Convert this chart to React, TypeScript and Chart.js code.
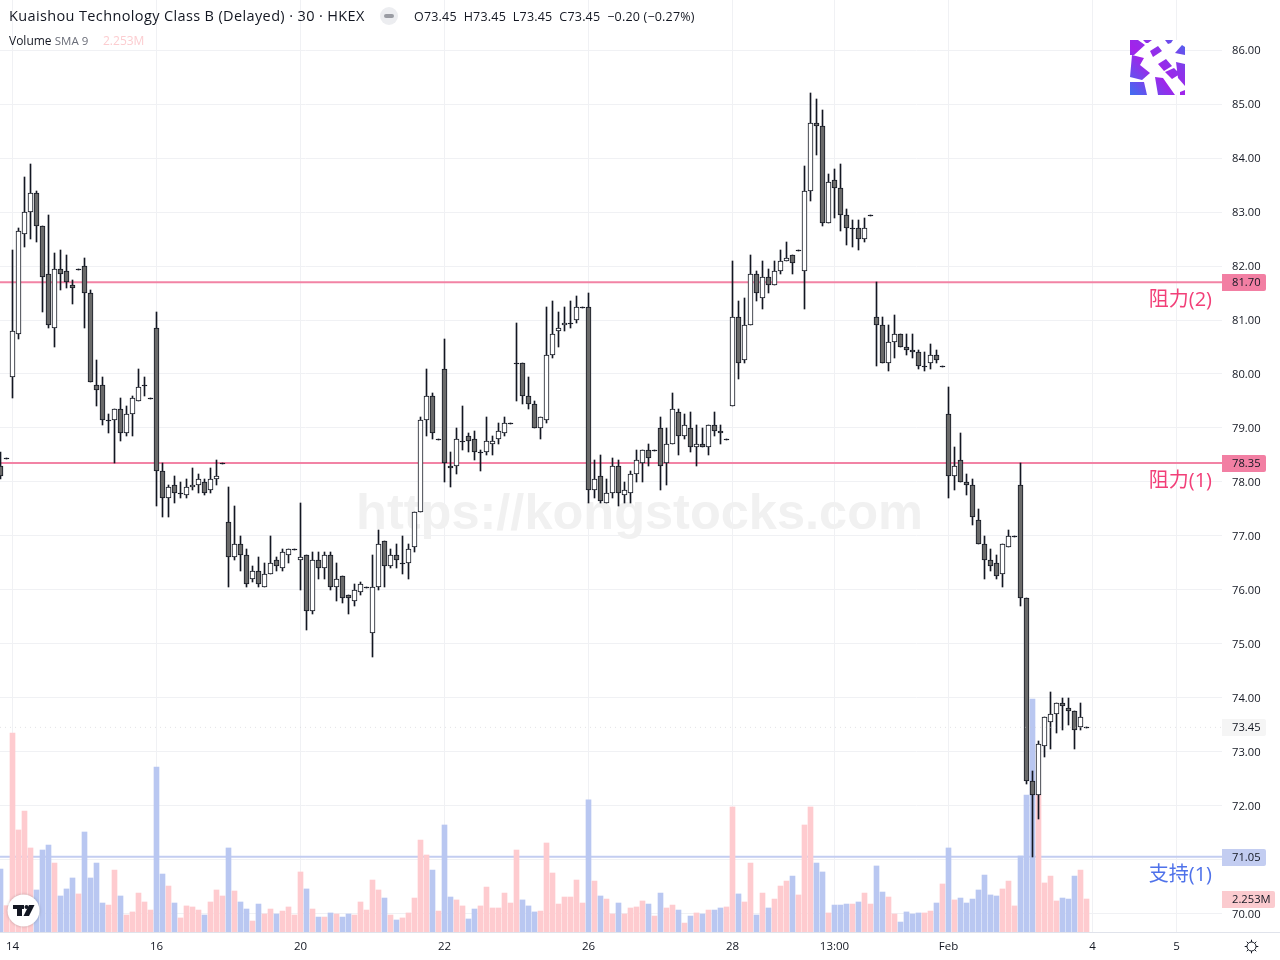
import React, { useEffect, useRef } from "react";
import { Chart, registerables } from "chart.js";

Chart.register(...registerables);

const opens = [
  78.3,78.45,79.95,80.75,82.6,83.0,83.35,82.75,81.85,80.85,
  81.95,81.9,81.65,81.95,82.0,81.5,79.8,79.8,79.15,79.15,
  79.35,78.9,79.25,79.5,79.8,79.55,80.85,78.2,77.7,77.95,
  77.8,77.75,77.9,77.95,78.0,77.85,78.05,78.35,77.25,76.6,
  76.85,76.65,76.2,76.35,76.05,76.3,76.55,76.4,76.65,76.75,
  76.55,76.65,75.6,76.55,76.4,76.65,76.05,76.25,75.9,75.8,
  75.95,76.05,75.2,76.05,76.9,76.45,76.65,76.5,76.5,76.8,
  77.45,79.15,79.6,78.8,80.1,78.3,78.3,78.75,78.85,78.8,
  78.55,78.55,78.7,78.8,78.9,79.1,80.2,80.2,79.6,79.45,
  79.0,79.15,80.35,80.8,80.9,80.95,81.0,81.25,81.25,77.85,
  78.1,77.6,77.8,78.3,77.75,77.8,78.15,78.35,78.6,78.6,
  79.0,78.35,78.7,79.3,78.85,79.0,78.65,78.7,78.65,79.05,
  78.95,78.8,79.4,81.05,80.25,80.9,81.85,81.4,81.8,81.65,
  81.9,82.1,82.2,82.3,81.9,83.4,84.65,84.6,82.8,83.6,
  83.45,82.95,82.7,82.7,82.5,82.95,81.05,80.9,80.2,80.6,
  80.75,80.5,80.45,80.4,80.15,80.2,80.35,80.15,79.25,78.1,
  78.4,78.0,77.95,77.3,76.85,76.55,76.5,76.3,76.8,77.0,
  77.95,75.85,72.45,72.2,73.1,73.55,73.7,73.9,73.8,73.75,73.45,73.45,
];
const closes = [
  78.1,78.45,80.8,82.65,83.0,83.35,82.75,81.8,80.9,81.95,
  81.85,81.7,81.6,81.95,81.5,79.85,79.7,79.15,79.15,79.35,
  78.9,79.25,79.55,79.75,79.8,79.55,78.2,77.7,77.9,77.8,
  77.8,77.9,77.95,78.05,77.8,78.05,78.1,78.35,76.6,76.85,
  76.65,76.1,76.35,76.1,76.3,76.5,76.45,76.7,76.75,76.75,
  76.6,75.6,76.55,76.4,76.65,76.05,76.2,75.85,75.85,76.0,
  76.1,76.05,76.05,76.85,76.45,76.65,76.55,76.5,76.75,77.45,
  79.15,79.6,78.9,78.8,78.35,78.25,78.8,78.75,78.75,78.55,
  78.55,78.75,78.75,78.95,79.1,79.1,80.2,79.6,79.45,79.0,
  79.2,80.35,80.75,80.85,80.95,80.95,81.25,81.25,77.85,78.05,
  77.65,77.8,78.3,77.8,77.85,78.15,78.4,78.6,78.45,78.6,
  78.3,78.7,79.35,78.85,79.05,78.65,78.7,78.65,79.05,78.95,
  78.9,78.8,81.05,80.2,80.9,81.85,81.5,81.8,81.65,81.9,
  82.1,82.15,82.05,82.3,83.4,84.65,84.6,82.8,83.55,83.45,
  82.95,82.7,82.7,82.5,82.7,82.95,80.9,80.2,80.6,80.75,
  80.5,80.45,80.4,80.15,80.15,80.35,80.25,80.15,78.1,78.3,
  78.0,77.95,77.35,76.85,76.55,76.45,76.25,76.85,77.0,77.0,
  75.85,72.45,72.2,73.15,73.65,73.7,73.9,73.85,73.75,73.4,73.65,73.45,
];
const highs = [
  78.55,78.45,82.3,82.7,83.65,83.9,83.4,82.75,82.95,82.25,
  82.3,82.2,81.75,81.95,82.15,81.55,80.25,79.95,79.25,79.35,
  79.55,79.4,79.6,80.1,79.95,79.55,81.15,78.35,77.95,78.1,
  78.0,78.05,78.25,78.15,78.05,78.25,78.4,78.35,77.9,77.55,
  77.0,76.75,76.45,76.6,76.5,77.0,76.6,76.75,76.75,76.75,
  77.6,76.65,76.7,76.7,76.7,76.7,76.5,76.25,75.9,76.1,
  76.15,76.05,76.65,77.1,76.9,76.75,76.85,77.0,76.85,77.45,
  79.2,80.1,79.65,78.8,80.65,78.55,79.0,79.4,78.9,78.95,
  78.6,79.2,78.85,79.1,79.2,79.1,80.95,80.2,79.95,79.5,
  79.2,81.25,81.35,81.15,81.25,81.35,81.45,81.25,81.5,78.4,
  78.5,78.05,78.45,78.4,78.0,78.2,78.6,78.6,78.7,78.6,
  79.2,79.0,79.65,79.35,79.25,79.3,79.05,79.0,79.05,79.3,
  79.05,78.8,82.1,81.35,81.4,82.2,81.9,82.1,81.95,82.1,
  82.3,82.45,82.2,82.3,83.85,85.2,85.1,84.9,83.7,83.8,
  83.9,83.05,82.85,82.85,82.9,82.95,81.7,81.05,80.9,81.1,
  80.75,80.75,80.75,80.45,80.4,80.55,80.45,80.15,79.75,78.65,
  78.9,78.15,78.05,77.5,77.0,76.75,76.65,76.85,77.1,77.0,
  78.35,75.85,72.65,73.2,73.65,74.1,73.9,74.0,74.0,73.75,73.9,73.45,
];
const lows = [
  78.05,78.45,79.55,80.65,82.35,82.5,82.45,81.15,80.85,80.5,
  81.55,81.6,81.3,81.95,80.85,79.85,79.4,79.05,78.9,78.35,
  78.75,78.85,78.85,79.5,79.6,79.55,77.55,77.35,77.35,77.6,
  77.7,77.7,77.85,77.8,77.75,77.8,77.95,78.35,76.05,76.55,
  76.35,76.05,76.15,76.05,76.05,76.3,76.35,76.35,76.5,76.75,
  76.0,75.25,75.55,76.2,76.2,76.0,75.8,75.75,75.55,75.7,
  75.9,76.05,74.75,76.0,76.05,76.4,76.4,76.3,76.2,76.7,
  77.45,78.85,78.8,78.8,78.0,77.9,78.15,78.6,78.55,78.4,
  78.2,78.5,78.5,78.7,78.85,79.1,79.5,79.45,79.35,79.0,
  78.8,79.1,80.3,80.5,80.8,80.85,80.95,81.25,77.6,77.7,
  77.6,77.6,77.7,77.55,77.6,77.6,78.0,78.0,78.3,78.6,
  77.85,77.95,78.7,78.5,78.8,78.55,78.3,78.65,78.5,78.85,
  78.7,78.8,79.4,79.9,80.2,80.9,81.35,81.2,81.5,81.65,
  81.85,82.1,81.85,82.3,81.2,83.2,84.05,82.75,82.8,82.9,
  82.65,82.4,82.35,82.3,82.45,82.95,80.15,80.2,80.05,80.3,
  80.5,80.35,80.3,80.1,80.05,80.1,80.2,80.15,77.7,77.85,
  78.0,77.75,77.2,76.85,76.2,76.35,76.2,76.05,76.8,77.0,
  75.7,72.4,71.05,71.75,72.9,73.05,73.35,73.4,73.5,73.05,73.4,73.45,
];
const volumes = [
  4.30,1.80,13.59,6.97,8.26,5.74,2.87,5.60,5.94,4.71,
  2.46,2.94,3.69,2.60,6.83,3.69,4.71,1.98,1.84,4.23,
  2.46,1.16,1.37,2.66,2.05,1.50,11.27,3.96,3.14,1.98,
  0.96,1.78,1.71,1.50,1.16,2.05,2.87,2.46,5.74,2.80,
  2.05,1.57,0.75,1.91,1.23,1.57,1.23,1.43,1.71,1.16,
  4.10,2.94,1.57,1.02,1.02,1.30,1.23,1.02,1.23,1.16,
  2.05,1.50,3.55,2.87,2.32,1.16,0.82,0.96,1.30,2.32,
  6.28,5.26,4.23,1.43,7.31,2.39,2.19,1.78,0.89,1.57,
  1.78,3.07,1.64,1.64,2.66,1.98,5.60,2.19,1.78,1.37,
  1.43,6.08,4.03,1.91,2.39,2.39,3.55,1.98,9.02,3.48,
  2.46,2.25,1.23,1.98,1.23,1.64,1.71,2.12,1.91,1.09,
  2.66,1.64,1.84,1.50,0.61,1.09,1.30,1.23,1.50,1.50,
  1.64,1.71,8.54,2.60,2.05,4.71,1.16,2.66,1.64,2.25,
  3.14,3.48,3.82,2.53,7.31,8.54,4.71,4.10,1.30,1.84,
  1.84,1.91,1.91,2.05,2.66,1.91,4.51,2.73,2.39,1.23,
  0.68,1.37,1.23,1.30,1.30,1.43,1.98,3.28,5.74,2.19,
  2.32,1.98,2.25,2.87,3.89,2.53,2.46,2.94,3.48,1.78,
  5.19,9.36,15.91,9.36,3.35,3.82,2.12,2.32,2.25,3.82,4.23,2.253,
];
const timeTickBars = [2, 26, 50, 74, 98, 122, 139, 158, 182, 196];
const timeTickLabels = ["14", "16", "20", "22", "26", "28", "13:00", "Feb", "4", "5"];
const priceTicks = [70, 71, 72, 73, 74, 75, 76, 77, 78, 79, 80, 81, 82, 83, 84, 85, 86];
const resistance2 = 81.7;
const resistance1 = 78.35;
const support1 = 71.05;
const lastPrice = 73.45;
const lastVolume = 2.253;

const X_MIN = -0.0833;
const X_MAX = 203.5833;
const Y_MIN = 69.657;
const Y_MAX = 86.932;
const VOL_MAX = 63.66;

const UI_FONT = '"Open Sans", "Noto Sans", sans-serif';
const INK = "#131722";
const UP_VOL = "#fecbcf";
const DOWN_VOL = "#b9c7f1";
const PINK_LINE = "#f283a5";
const BLUE_LINE = "#c3cdf1";
const GRID = "#f0f1f4";

const idx = opens.map((_, i) => i);
const isUp = (i: number) => closes[i] >= opens[i];

const noPad = (s: any) => {
  s.paddingLeft = 0;
  s.paddingRight = 0;
  s.paddingTop = 0;
  s.paddingBottom = 0;
};

const snapBars = {
  id: "snapBars",
  afterDatasetsUpdate(chart: any) {
    chart.data.datasets.forEach((ds: any, d: number) => {
      if (ds.type !== "bar" || ds.yAxisID === "vol") return;
      chart.getDatasetMeta(d).data.forEach((el: any) => {
        const a = Math.round(Math.min(el.y, el.base));
        let b = Math.round(Math.max(el.y, el.base));
        if (b <= a) b = a + 1;
        el.y = a;
        el.base = b;
        el.height = b - a;
      });
    });
  },
};

const backdrop = {
  id: "backdrop",
  beforeDatasetsDraw(chart: any) {
    const c = chart.ctx;
    c.save();
    c.font = 'bold 50.5px "Liberation Sans", sans-serif';
    c.fillStyle = "#f1f1f1";
    c.textAlign = "center";
    c.textBaseline = "middle";
    c.fillText("https://kongstocks.com", 639.5, 515);
    c.restore();
  },
};

const logoTiles = [
  [[0, 0], [8, 0], [15, 5], [4, 15], [0, 15]],
  [[13, 0], [22, 0], [18, 3], [16, 3]],
  [[35, 0], [43, 0], [41, 3], [38, 4]],
  [[45, 13], [52, 5], [55, 7], [55, 15]],
  [[20, 11], [28, 6], [32, 11], [23, 17]],
  [[2, 15], [14, 18], [10, 25], [20, 33], [12, 40], [0, 37]],
  [[28, 24], [36, 19], [42, 26], [34, 31]],
  [[35, 32], [44, 28], [50, 34], [42, 39]],
  [[46, 22], [55, 24], [55, 46], [48, 38]],
  [[0, 42], [14, 42], [17, 55], [0, 55]],
  [[25, 37], [33, 38], [45, 55], [28, 55]],
  [[50, 52], [55, 50], [55, 55], [50, 55]],
];

function drawLogo(c: CanvasRenderingContext2D) {
  c.save();
  c.translate(1130, 40);
  c.fillStyle = "#ffffff";
  c.fillRect(0, 0, 55, 55);
  const g = c.createLinearGradient(0, 55, 55, 0);
  g.addColorStop(0, "#3f6ff0");
  g.addColorStop(0.45, "#a322ea");
  g.addColorStop(0.7, "#8a35ea");
  g.addColorStop(1, "#4a68ee");
  c.fillStyle = g;
  c.beginPath();
  logoTiles.forEach((tile) => {
    tile.forEach(([px, py], k) => (k ? c.lineTo(px, py) : c.moveTo(px, py)));
    c.closePath();
  });
  c.fill();
  c.restore();
}

function drawTvBadge(c: CanvasRenderingContext2D) {
  c.save();
  c.beginPath();
  c.arc(23.5, 910.5, 16, 0, Math.PI * 2);
  c.fillStyle = "#ffffff";
  c.shadowColor = "rgba(0,0,0,0.25)";
  c.shadowBlur = 3;
  c.fill();
  c.shadowBlur = 0;
  c.fillStyle = INK;
  c.fillRect(13, 905, 11, 4);
  c.fillRect(17, 905, 5, 11);
  c.beginPath();
  c.arc(26.5, 907, 2, 0, Math.PI * 2);
  c.fill();
  c.beginPath();
  c.moveTo(29, 905);
  c.lineTo(34.5, 905);
  c.lineTo(29, 916);
  c.lineTo(23.5, 916);
  c.closePath();
  c.fill();
  c.restore();
}

function drawGear(c: CanvasRenderingContext2D) {
  c.save();
  c.strokeStyle = INK;
  c.lineWidth = 1;
  c.beginPath();
  c.arc(1251.5, 946.5, 4.5, 0, Math.PI * 2);
  c.stroke();
  for (let k = 0; k < 8; k++) {
    const t = (k * Math.PI) / 4;
    c.beginPath();
    c.moveTo(1251.5 + Math.cos(t) * 4.5, 946.5 + Math.sin(t) * 4.5);
    c.lineTo(1251.5 + Math.cos(t) * 6.8, 946.5 + Math.sin(t) * 6.8);
    c.stroke();
  }
  c.restore();
}

const overlay = {
  id: "overlay",
  afterDraw(chart: any) {
    const c = chart.ctx;
    const yS = chart.scales.y;
    const vS = chart.scales.vol;
    const pills: [number, string, string, number][] = [
      [yS.getPixelForValue(resistance2), "#f27fa3", resistance2.toFixed(2), 44],
      [yS.getPixelForValue(resistance1), "#f27fa3", resistance1.toFixed(2), 44],
      [yS.getPixelForValue(support1), "#c3cdf1", support1.toFixed(2), 44],
      [yS.getPixelForValue(lastPrice), "#f5f5f5", lastPrice.toFixed(2), 44],
      [vS.getPixelForValue(lastVolume), "#fbcbcf", lastVolume.toFixed(3) + "M", 53],
    ];
    c.save();
    c.textBaseline = "middle";
    pills.forEach(([y, color, text, w]) => {
      const top = Math.round(y) - 8;
      c.fillStyle = color;
      c.beginPath();
      c.roundRect(1222, top, w, 17, [0, 2, 2, 0]);
      c.fill();
      c.fillStyle = INK;
      c.font = "11.2px " + UI_FONT;
      c.textAlign = "left";
      c.fillText(text, 1232, top + 9);
    });
    c.textAlign = "right";
    c.font = '20px "Open Sans", "Noto Sans CJK SC", sans-serif';
    c.fillStyle = "#f23f78";
    c.fillText("阻力(2)", 1212, yS.getPixelForValue(resistance2) + 18);
    c.fillText("阻力(1)", 1212, yS.getPixelForValue(resistance1) + 18);
    c.fillStyle = "#4f72ea";
    c.fillText("支持(1)", 1212, yS.getPixelForValue(support1) + 18);
    c.strokeStyle = "#e0e3eb";
    c.lineWidth = 1;
    c.beginPath();
    c.moveTo(0, 932.5);
    c.lineTo(1280, 932.5);
    c.stroke();
    c.restore();
    drawLogo(c);
    drawTvBadge(c);
    drawGear(c);
  },
};

const hLine = (label: string, v: number, color: string, width: number, order: number, dash?: number[]) => ({
  type: "line" as const,
  label,
  data: [
    { x: X_MIN, y: v },
    { x: X_MAX, y: v },
  ],
  borderColor: color,
  borderWidth: width,
  borderDash: dash || [],
  pointRadius: 0,
  yAxisID: "y",
  order,
});

export default function App() {
  const ref = useRef<HTMLCanvasElement>(null);
  useEffect(() => {
    const chart = new Chart(ref.current as HTMLCanvasElement, {
      type: "bar",
      data: {
        datasets: [
          hLine("Resistance 2", resistance2, PINK_LINE, 2, 9),
          hLine("Resistance 1", resistance1, PINK_LINE, 2, 9),
          hLine("Support 1", support1, BLUE_LINE, 2, 9),
          {
            type: "bar",
            label: "Volume",
            yAxisID: "vol",
            data: idx.map((i) => ({ x: i, y: volumes[i] })),
            backgroundColor: idx.map((i) => (isUp(i) ? UP_VOL : DOWN_VOL)),
            barThickness: 5,
            maxBarThickness: 5,
            grouped: false,
            order: 5,
          },
          {
            type: "bar",
            label: "Wicks",
            yAxisID: "y",
            data: idx.map((i) => ({ x: i, y: [lows[i], highs[i]] })),
            backgroundColor: INK,
            barThickness: 1,
            maxBarThickness: 1,
            grouped: false,
            order: 3,
          },
          {
            type: "bar",
            label: "Bodies",
            yAxisID: "y",
            data: idx.map((i) => ({ x: i, y: [opens[i], closes[i]] })),
            backgroundColor: idx.map((i) => (opens[i] === closes[i] ? INK : isUp(i) ? "#ffffff" : "#6a6a6a")),
            borderColor: INK,
            borderWidth: 1,
            borderSkipped: false,
            barThickness: 5,
            maxBarThickness: 5,
            grouped: false,
            order: 2,
          },
          hLine("Last price", lastPrice, "rgba(200,200,205,0.5)", 1, 1, [1, 4]),
        ] as any,
      },
      options: {
        animation: false,
        responsive: false,
        events: [],
        layout: { padding: 0 },
        plugins: { legend: { display: false }, tooltip: { enabled: false }, title: { display: false } },
        scales: {
          x: {
            type: "linear",
            position: "bottom",
            min: X_MIN,
            max: X_MAX,
            offset: false,
            afterFit: (s: any) => {
              s.height = 28;
              noPad(s);
            },
            afterBuildTicks: (s: any) => {
              s.ticks = timeTickBars.map((value) => ({ value }));
            },
            grid: { color: GRID, drawTicks: false, offset: false },
            border: { display: false },
            ticks: {
              autoSkip: false,
              maxRotation: 0,
              padding: 8,
              color: INK,
              font: { family: UI_FONT, size: 11.5 },
              callback: (v: any) => timeTickLabels[timeTickBars.indexOf(v)],
            },
          },
          y: {
            type: "linear",
            position: "right",
            min: Y_MIN,
            max: Y_MAX,
            afterFit: (s: any) => {
              s.width = 58;
              noPad(s);
            },
            afterBuildTicks: (s: any) => {
              s.ticks = priceTicks.map((value) => ({ value }));
            },
            grid: { color: GRID, drawTicks: false },
            border: { display: false },
            ticks: {
              padding: 10,
              labelOffset: 1,
              color: INK,
              font: { family: UI_FONT, size: 11.2 },
              callback: (v: any) => Number(v).toFixed(2),
            },
          },
          vol: {
            type: "linear",
            display: false,
            min: 0,
            max: VOL_MAX,
          },
        },
      } as any,
      plugins: [snapBars, backdrop, overlay] as any,
    });
    return () => chart.destroy();
  }, []);

  const row: React.CSSProperties = {
    position: "absolute",
    whiteSpace: "nowrap",
    fontFamily: UI_FONT,
    color: INK,
  };
  return (
    <div style={{ position: "absolute", left: 0, top: 0, width: 1280, height: 960, background: "#fff", overflow: "hidden" }}>
      <canvas ref={ref} width={1280} height={960} style={{ display: "block", width: 1280, height: 960 }} />
      <div style={{ ...row, left: 9, top: 6, fontSize: 14.5, letterSpacing: 0.37, lineHeight: "20px" }}>
        Kuaishou Technology Class B (Delayed) · 30 · HKEX
      </div>
      <div style={{ position: "absolute", left: 380, top: 7, width: 18, height: 18, borderRadius: 9, background: "#ecedf0" }}>
        <div style={{ position: "absolute", left: 4, top: 7, width: 10, height: 4, borderRadius: 2, background: "#9a9ca3" }} />
      </div>
      <div style={{ ...row, left: 414, top: 8, fontSize: 12.5, letterSpacing: 0.2, lineHeight: "18px" }}>
        O73.45&nbsp; H73.45&nbsp; L73.45&nbsp; C73.45&nbsp; −0.20 (−0.27%)
      </div>
      <div style={{ ...row, left: 9, top: 32, fontSize: 12, lineHeight: "18px" }}>
        Volume <span style={{ color: "#6a6d78", fontSize: 11.5 }}>SMA 9</span>
      </div>
      <div style={{ ...row, left: 103, top: 32, fontSize: 12, lineHeight: "18px", color: "#fccdd0" }}>2.253M</div>
    </div>
  );
}
